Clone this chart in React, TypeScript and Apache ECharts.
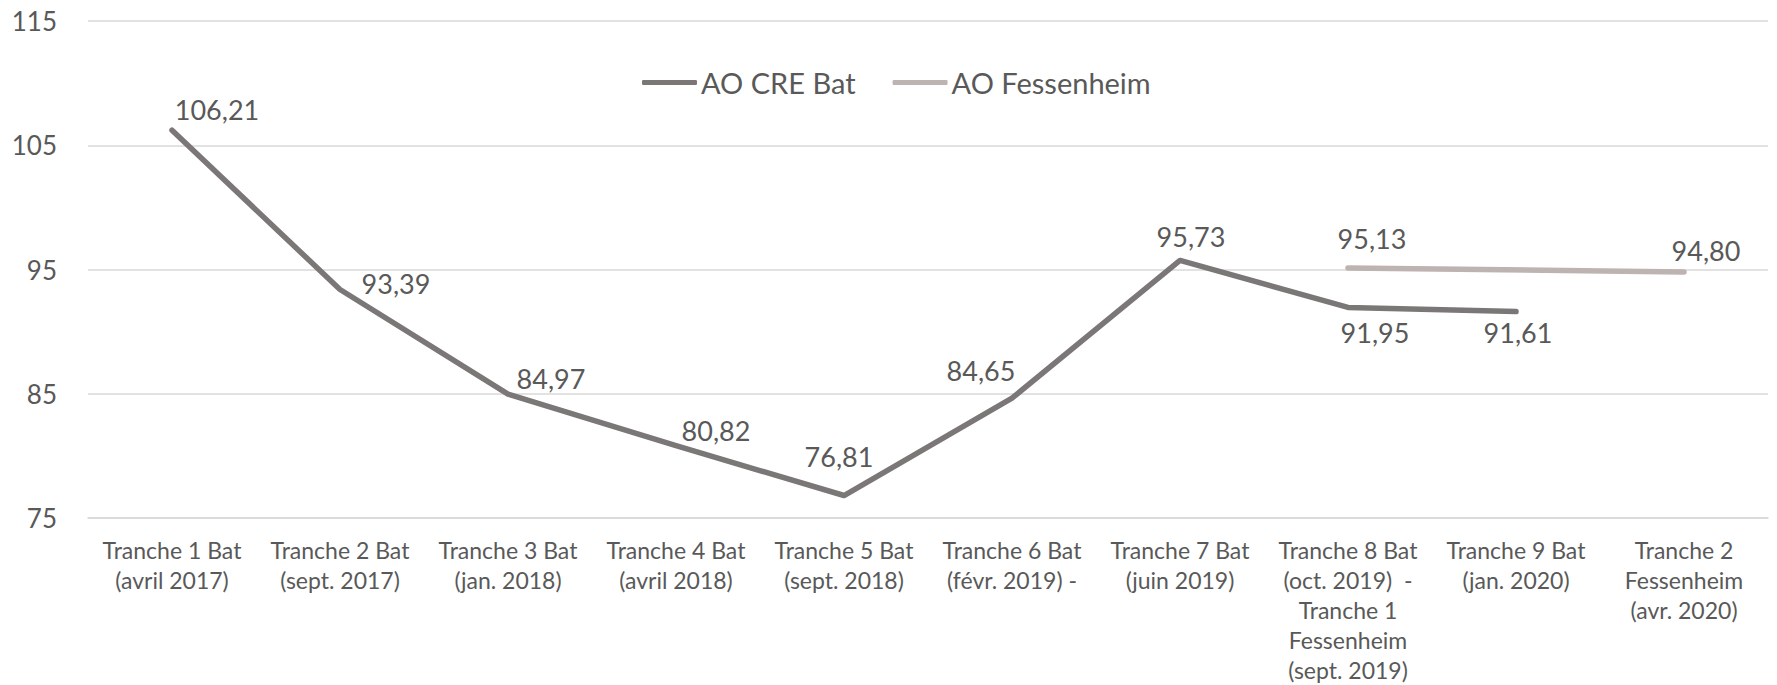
import React, { useEffect, useRef } from "react";
import * as echarts from "echarts";

const categories: string[] = [
  "Tranche 1 Bat\n(avril 2017)",
  "Tranche 2 Bat\n(sept. 2017)",
  "Tranche 3 Bat\n(jan. 2018)",
  "Tranche 4 Bat\n(avril 2018)",
  "Tranche 5 Bat\n(sept. 2018)",
  "Tranche 6 Bat\n(févr. 2019) -",
  "Tranche 7 Bat\n(juin 2019)",
  "Tranche 8 Bat\n(oct. 2019)  -\nTranche 1\nFessenheim\n(sept. 2019)",
  "Tranche 9 Bat\n(jan. 2020)",
  "Tranche 2\nFessenheim\n(avr. 2020)",
];

const creBat: (number | null)[] = [106.21, 93.39, 84.97, 80.82, 76.81, 84.65, 95.73, 91.95, 91.61, null];
const fessenheim: (number | null)[] = [null, null, null, null, null, null, null, 95.13, null, 94.8];

// label offsets (pixels from the point) for each data label
const creOffsets: [number, number][] = [
  [45, -21], [56, -6], [43, -16], [40, -15], [-5, -39],
  [-31, -28], [11, -24], [27, 25], [2, 21], [0, 0],
];
const fessOffsets: [number, number][] = [
  [0, 0], [0, 0], [0, 0], [0, 0], [0, 0], [0, 0], [0, 0], [24, -29], [0, 0], [22, -21],
];

const FONT = "'Source Sans Pro', Lato, sans-serif";
const TEXT = "#595959";

const fmt = (v: number) => v.toFixed(2).replace(".", ",");

export default function App() {
  const ref = useRef<HTMLDivElement>(null);
  useEffect(() => {
    document.body.style.margin = "0";
    const chart = echarts.init(ref.current!, null, { renderer: "svg" });
    const mk = (vals: (number | null)[], offs: [number, number][]) =>
      vals.map((v, i) =>
        v === null
          ? null
          : {
              value: v,
              label: {
                show: true,
                position: "inside",
                offset: offs[i],
                formatter: () => fmt(v),
              },
            }
      );
    chart.setOption({
      animation: false,
      textStyle: { fontFamily: FONT },
      legend: {
        left: 637,
        top: 63,
        itemWidth: 55,
        itemHeight: 5,
        itemGap: 37,
        icon: "roundRect",
        textStyle: { fontFamily: FONT, fontSize: 29, color: TEXT, padding: [0, 0, 0, -1] },
        data: ["AO CRE Bat", "AO Fessenheim"],
      },
      grid: { left: 88, right: 9, top: 21, bottom: 165, containLabel: false },
      xAxis: {
        type: "category",
        data: categories,
        boundaryGap: true,
        axisLine: { show: true, lineStyle: { color: "#d9d9d9", width: 1.5 } },
        axisTick: { show: false },
        axisLabel: {
          interval: 0,
          margin: 17,
          fontFamily: FONT,
          fontSize: 23,
          lineHeight: 30,
          color: TEXT,
          align: "center",
          verticalAlign: "top",
        },
      },
      yAxis: {
        type: "value",
        min: 75,
        max: 115,
        interval: 10,
        axisLine: { show: false },
        axisTick: { show: false },
        splitLine: { lineStyle: { color: "#d9d9d9", width: 1.5 } },
        axisLabel: { fontFamily: FONT, fontSize: 26, color: TEXT, margin: 31 },
      },
      series: [
        {
          name: "AO CRE Bat",
          type: "line",
          data: mk(creBat, creOffsets),
          symbol: "circle",
          symbolSize: 1,
          showSymbol: true,
          color: "#7b7777",
          lineStyle: { width: 5.5, color: "#7b7777", cap: "round", join: "round" },
          itemStyle: { color: "#7b7777" },
          label: { fontFamily: FONT, fontSize: 27, color: TEXT },
          z: 3,
        },
        {
          name: "AO Fessenheim",
          type: "line",
          data: mk(fessenheim, fessOffsets),
          connectNulls: true,
          symbol: "circle",
          symbolSize: 1,
          showSymbol: true,
          color: "#bdb3b1",
          lineStyle: { width: 5.5, color: "#bdb3b1", cap: "round", join: "round" },
          itemStyle: { color: "#bdb3b1" },
          label: { fontFamily: FONT, fontSize: 27, color: TEXT },
          z: 2,
        },
      ],
    });
    return () => chart.dispose();
  }, []);
  return <div ref={ref} style={{ width: 1777, height: 685 }} />;
}
